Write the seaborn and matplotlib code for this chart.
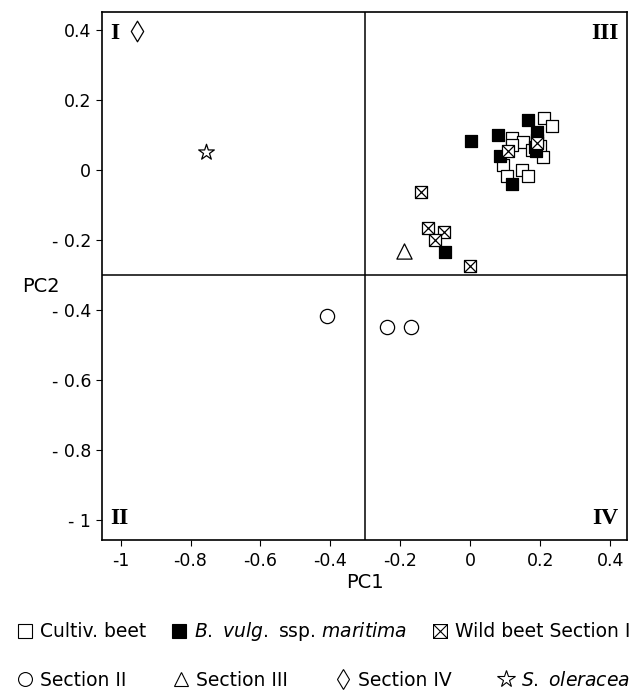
import numpy as np
import pandas as pd
import matplotlib
matplotlib.use("Agg")
import matplotlib.pyplot as plt
from matplotlib.path import Path
from matplotlib.lines import Line2D
import seaborn as sns

# ---------------- data ----------------
cultiv_x = [0.212, 0.233, 0.119, 0.152, 0.119, 0.199, 0.176, 0.095, 0.105, 0.147, 0.166, 0.207, 0.190]
cultiv_y = [0.149, 0.126, 0.093, 0.080, 0.073, 0.069, 0.059, 0.016, -0.015, 0.002, -0.015, 0.037, 0.088]

maritima_x = [0.003, 0.080, 0.084, 0.165, 0.192, 0.188, 0.119, -0.072, 0.185]
maritima_y = [0.085, 0.100, 0.041, 0.145, 0.109, 0.054, -0.039, -0.235, 0.068]

wild_x = [-0.141, -0.122, -0.076, -0.100, -0.002, 0.109, 0.190]
wild_y = [-0.063, -0.164, -0.177, -0.198, -0.275, 0.054, 0.078]

sec2_x = [-0.409, -0.238, -0.169]
sec2_y = [-0.418, -0.447, -0.447]

sec3_x = [-0.190]
sec3_y = [-0.230]

sec4_x = [-0.954]
sec4_y = [0.398]

oler_x = [-0.757]
oler_y = [0.053]

groups = ["Cultiv. beet", "B. vulg. ssp. maritima", "Wild beet Section I",
          "Section II", "Section III", "Section IV", "S. oleracea"]
legend_labels = ["Cultiv. beet", r"$\it{B.}$ $\it{vulg.}$ ssp. $\it{maritima}$", "Wild beet Section I",
                 "Section II", "Section III", "Section IV", r"$\it{S.}$ $\it{oleracea}$"]

xticks = [-1, -0.8, -0.6, -0.4, -0.2, 0, 0.2, 0.4]
xtick_labels = ["-1", "-0.8", "-0.6", "-0.4", "-0.2", "0", "0.2", "0.4"]
yticks = [0.4, 0.2, 0, -0.2, -0.4, -0.6, -0.8, -1]
ytick_labels = ["0.4", "0.2", "0", "- 0.2", "- 0.4", "- 0.6", "- 0.8", "- 1"]
quadrant_labels = ["I", "II", "III", "IV"]
divider = -0.3

# ---------------- table ----------------
xs = [cultiv_x, maritima_x, wild_x, sec2_x, sec3_x, sec4_x, oler_x]
ys = [cultiv_y, maritima_y, wild_y, sec2_y, sec3_y, sec4_y, oler_y]
df = pd.concat([pd.DataFrame({"PC1": x, "PC2": y, "group": g}) for x, y, g in zip(xs, ys, groups)],
               ignore_index=True)

# crossed square marker
crossed = Path(
    [(-0.5, -0.5), (0.5, -0.5), (0.5, 0.5), (-0.5, 0.5), (-0.5, -0.5),
     (-0.5, -0.5), (0.5, 0.5), (-0.5, 0.5), (0.5, -0.5)],
    [Path.MOVETO, Path.LINETO, Path.LINETO, Path.LINETO, Path.CLOSEPOLY,
     Path.MOVETO, Path.LINETO, Path.MOVETO, Path.LINETO])

markers = {"Cultiv. beet": "s", "B. vulg. ssp. maritima": "s", "Wild beet Section I": crossed,
           "Section II": "o", "Section III": "^", "Section IV": "d", "S. oleracea": "*"}
palette = {g: "white" for g in groups}
palette["B. vulg. ssp. maritima"] = "black"
sizes = {"Cultiv. beet": 75, "B. vulg. ssp. maritima": 75, "Wild beet Section I": 75,
         "Section II": 105, "Section III": 120, "Section IV": 110, "S. oleracea": 140}

# ---------------- plot ----------------
sns.set_style("white")
plt.rcParams["font.family"] = ["DejaVu Sans"]
plt.rcParams["axes.unicode_minus"] = False
plt.rcParams["text.color"] = "black"
plt.rcParams["axes.labelcolor"] = "black"

fig = plt.figure(figsize=(6.4, 6.99), dpi=100)
ax = fig.add_axes([0.159, 0.228, 0.821, 0.755])

ax.axvline(divider, color="black", lw=1.1, zorder=1)
ax.axhline(divider, color="black", lw=1.1, zorder=1)

for g in groups:
    sub = df[df["group"] == g]
    sns.scatterplot(data=sub, x="PC1", y="PC2", marker=markers[g],
                    color=palette[g], edgecolor="black", linewidth=0.9,
                    s=sizes[g], ax=ax, zorder=3, legend=False)

ax.set_xlim(-1.054, 0.449)
ax.set_ylim(-1.056, 0.453)
ax.set_xticks(xticks)
ax.set_xticklabels(xtick_labels)
ax.set_yticks(yticks)
ax.set_yticklabels(ytick_labels)
ax.tick_params(axis="both", direction="out", length=4, width=0.8, labelsize=12.5,
               colors="black", left=True, bottom=True)
ax.tick_params(axis="x", pad=5)
for sp in ax.spines.values():
    sp.set_color("black")
    sp.set_linewidth(1.2)

ax.set_xlabel("PC1", fontsize=14, labelpad=2)
ax.set_ylabel("PC2", fontsize=14, rotation=0, ha="center", va="center")
ax.yaxis.set_label_coords(-0.115, 0.48)

qfont = dict(family="Liberation Serif", fontsize=17, fontweight="bold", color="black")
ax.text(0.016, 0.978, quadrant_labels[0], transform=ax.transAxes, ha="left", va="top", **qfont)
ax.text(0.016, 0.02, quadrant_labels[1], transform=ax.transAxes, ha="left", va="bottom", **qfont)
ax.text(0.984, 0.978, quadrant_labels[2], transform=ax.transAxes, ha="right", va="top", **qfont)
ax.text(0.984, 0.02, quadrant_labels[3], transform=ax.transAxes, ha="right", va="bottom", **qfont)

# ---------------- legend ----------------
def handle(g):
    return Line2D([], [], ls="none", marker=markers[g], markersize=10 if g != "S. oleracea" else 13,
                  markerfacecolor=palette[g], markeredgecolor="black", markeredgewidth=0.8)

h1 = [handle(g) for g in groups[:3]]
h2 = [handle(g) for g in groups[3:]]
x0, w = 16 / 640, 614 / 640
fig.legend(h1, legend_labels[:3], loc="center", bbox_to_anchor=(x0, 0.076, w, 0.04), ncol=3,
           mode="expand", frameon=False, fontsize=13.5, handletextpad=0.3, handlelength=1.0,
           borderaxespad=0, borderpad=0, labelcolor="black")
fig.legend(h2, legend_labels[3:], loc="center", bbox_to_anchor=(x0, 0.007, w, 0.04), ncol=4,
           mode="expand", frameon=False, fontsize=13.5, handletextpad=0.3, handlelength=1.0,
           borderaxespad=0, borderpad=0, labelcolor="black")

fig.savefig("out.png", dpi=100)
